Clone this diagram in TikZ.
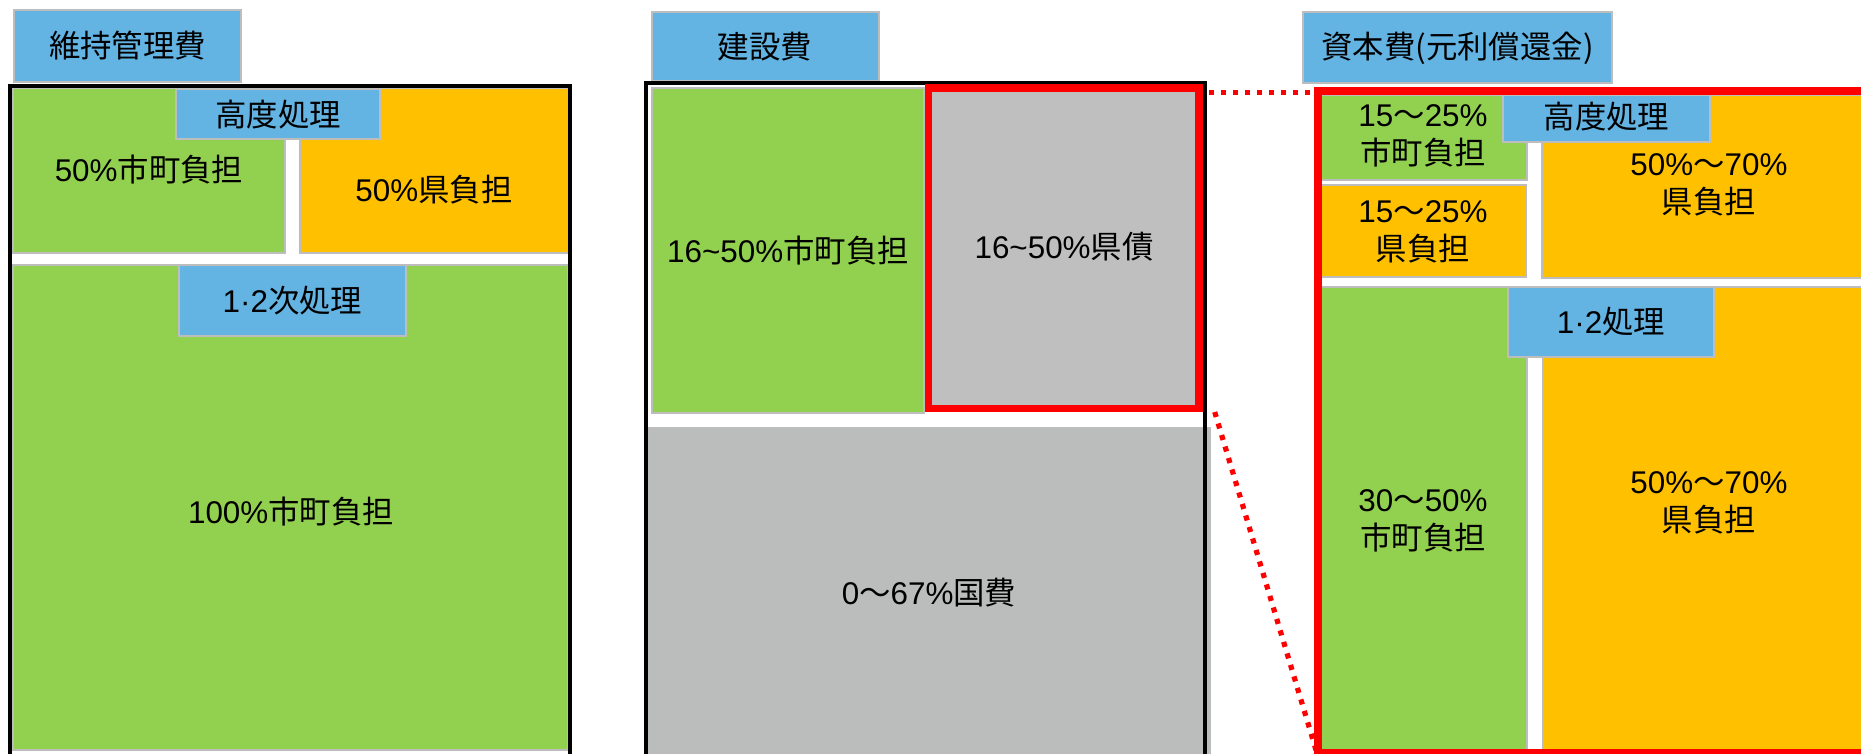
\documentclass[tikz,border=0pt]{standalone}
\usepackage{fontspec}
\setmainfont{Liberation Sans}
\newfontfamily\jp{Noto Sans CJK JP}
\definecolor{cgreen}{HTML}{92D050}
\definecolor{corange}{HTML}{FFC000}
\definecolor{cblue}{HTML}{63B3E3}
\definecolor{cgray}{HTML}{BFBFBF}
\definecolor{cgraytwo}{HTML}{BBBDBC}
\definecolor{cedge}{HTML}{BDBDBD}
\definecolor{cred}{HTML}{FF0000}
\tikzset{
  cell/.style={draw=cedge, line width=0.8pt},
  greencell/.style={cell, fill=cgreen},
  orangecell/.style={cell, fill=corange},
  graycell/.style={cell, fill=cgray},
  graycelltwo/.style={cell, fill=cgraytwo},
  bluecell/.style={draw=cedge, line width=1.1pt, fill=cblue},
  txt/.style={font=\fontsize{15.7}{19}\selectfont, align=center, inner sep=0pt},
  blackframe/.style={draw=black, line width=2pt},
  redframe/.style={draw=cred, line width=3.6pt},
  zoomline/.style={draw=cred, line width=2.6pt, dash pattern=on 2.6pt off 3.4pt}
}
\begin{document}
\begin{tikzpicture}[x=0.5pt,y=-0.5pt]
\useasboundingbox (0,0) rectangle (1861,754);
\clip (0,0) rectangle (1861,754);

% ---------- left panel: 維持管理費 ----------
\path[bluecell] (14,10) rectangle (241,82);
\node[txt] (t1) at (127.5,46) {\jp 維持管理費};
\path[greencell] (13,88) rectangle (285,253);
\path[orangecell] (300,88) rectangle (568,253);
\path[greencell] (13,265) rectangle (568,750);
\path[bluecell] (176,89) rectangle (380,139);
\node[txt] (l1) at (278,115) {\jp 高度処理};
\path[bluecell] (179,265) rectangle (406,336);
\node[txt] (l2) at (292.5,301) {1·2{\jp 次処理}};
\node[txt] (a1) at (149,170) {50\%{\jp 市町負担}};
\node[txt] (a2) at (434,190) {50\%{\jp 県負担}};
\node[txt] (a3) at (291,512) {100\%{\jp 市町負担}};
\draw[blackframe] (9.5,86) rectangle (569.5,790);

% ---------- middle panel: 建設費 ----------
\path[bluecell] (652,12) rectangle (879,81);
\node[txt] (t2) at (765,47) {\jp 建設費};
\path[greencell] (652,88) rectangle (924,413);
\path[graycell] (930,88) rectangle (1197,408);
\path[graycelltwo] (648,428) rectangle (1210,790);
\node[txt] (b1) at (788,251) {16\textasciitilde 50\%{\jp 市町負担}};
\node[txt] (b2) at (1064,247) {16\textasciitilde 50\%{\jp 県債}};
\node[txt] (b3) at (929,593) {0{\jp ～}67\%{\jp 国費}};
\draw[blackframe] (645.5,83.5) rectangle (1205,790);
\draw[redframe] (928.5,88) rectangle (1199,408.5);

% ---------- right panel: 資本費 ----------
\path[bluecell] (1303,12) rectangle (1612,83);
\node[txt] (t3) at (1457.5,48) {\jp 資本費(元利償還金)};
\path[greencell] (1321,95) rectangle (1527,180);
\path[orangecell] (1321,185) rectangle (1526,277);
\path[orangecell] (1542,95) rectangle (1890,278);
\path[greencell] (1321,287) rectangle (1527,760);
\path[orangecell] (1543,287) rectangle (1890,760);
\path[bluecell] (1503,95) rectangle (1710,142);
\node[txt] (l3) at (1606.5,117) {\jp 高度処理};
\path[bluecell] (1508,287) rectangle (1714,357);
\node[txt] (l4) at (1611,322) {1·2{\jp 処理}};
\node[txt] (c1) at (1423,136) {15{\jp ～}25\%\\{\jp 市町負担}};
\node[txt] (c2) at (1423,232) {15{\jp ～}25\%\\{\jp 県負担}};
\node[txt] (c3) at (1709,185) {50\%{\jp ～}70\%\\{\jp 県負担}};
\node[txt] (c4) at (1423,521) {30{\jp ～}50\%\\{\jp 市町負担}};
\node[txt] (c5) at (1709,503) {50\%{\jp ～}70\%\\{\jp 県負担}};
\draw[redframe] (1318,91) rectangle (1900,752.5);

% ---------- zoom connectors ----------
\coordinate (zA) at (1209,92.5);
\coordinate (zB) at (1314,92.5);
\coordinate (zC) at (1214.7,412);
\coordinate (zD) at (1316.6,752);
\draw[zoomline] (zA) -- (zB);
\draw[zoomline] (zC) -- (zD);
\end{tikzpicture}
\end{document}
